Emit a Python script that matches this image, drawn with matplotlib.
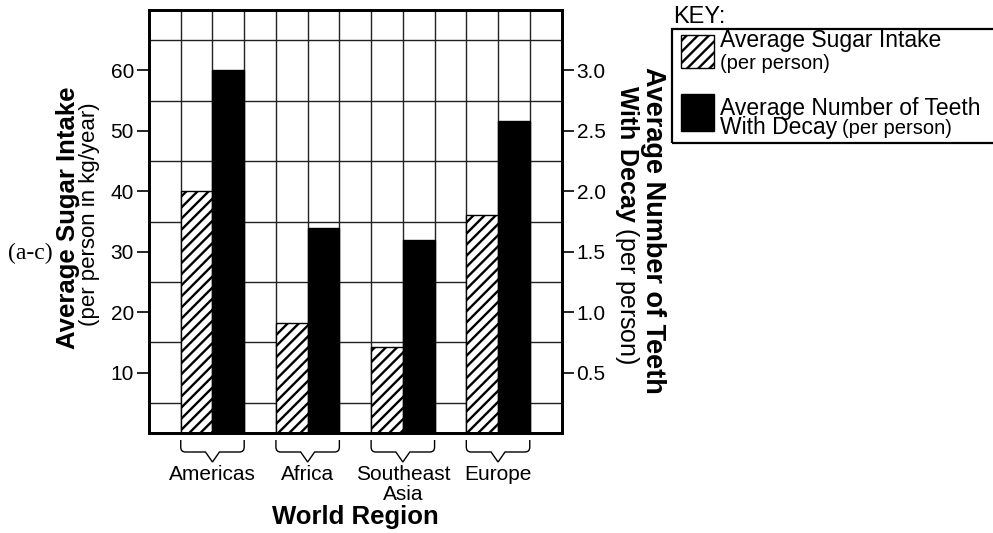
# Сахар и кариес по регионам мира: столбцы с двумя осями Y
import numpy as np
import matplotlib.pyplot as plt
import matplotlib.transforms as mtransforms
from matplotlib.path import Path
from matplotlib.patches import PathPatch, Rectangle

plt.rcParams['font.family'] = ['Liberation Sans', 'DejaVu Sans']
plt.rcParams['hatch.linewidth'] = 1.7
plt.rcParams['mathtext.fontset'] = 'custom'
plt.rcParams['mathtext.rm'] = 'Liberation Sans'
plt.rcParams['mathtext.bf'] = 'Liberation Sans:bold'

# данные
regions = ['Americas', 'Africa', 'Southeast\nAsia', 'Europe']
sugar = [40, 18.2, 14.2, 36]          # кг/год на человека (левая ось)
decay = [3.0, 1.7, 1.6, 2.58]         # зубов с кариесом (правая ось)
left_ticks = [10, 20, 30, 40, 50, 60]
right_ticks = [0.5, 1.0, 1.5, 2.0, 2.5, 3.0]

W, H = 993, 533
fig = plt.figure(figsize=(W / 100, H / 100), dpi=100)
ax = fig.add_axes([149 / W, 100 / H, 412.5 / W, 423 / H])
ax2 = ax.twinx()

centers = np.arange(len(regions)) * 3 + 2
ax.bar(centers - 0.5, sugar, width=1, color='white', edgecolor='black',
       hatch='///', linewidth=1, zorder=2)
ax2.bar(centers + 0.5, decay, width=1, color='black', edgecolor='black',
        linewidth=1, zorder=2)

# сетка: каждая клетка = 1 столбец по X и 5 единиц по Y
ax.set_xticks([])
ax.set_xticks(np.arange(0, 14), minor=True)
ax.set_yticks(left_ticks)
ax.set_yticks(np.arange(0, 71, 5), minor=True)
ax.grid(which='minor', color='#222222', linewidth=1)
ax.set_axisbelow(True)
ax.tick_params(which='minor', length=0)
ax.tick_params(axis='y', which='major', length=8.3, width=1.2, pad=2.5,
               labelsize=15, direction='out')
ax2.set_yticks(right_ticks)
ax2.set_yticklabels([f'{v:.1f}' for v in right_ticks])
ax2.tick_params(axis='y', length=8.3, width=1.2, pad=2.5, labelsize=15,
                direction='out')
for a in (ax, ax2):
    for s in a.spines.values():
        s.set_linewidth(2)

# фигурные скобки под группами и подписи регионов
trans = mtransforms.blended_transform_factory(ax.transData, ax.transAxes)
h = 423.0


def brace(x0, x1):
    xm = (x0 + x1) / 2
    y_top, y_hook, y_mid, y_tip = -7 / h, -14 / h, -19 / h, -29 / h
    verts = [(x0, y_top), (x0, y_hook), (x0, y_mid), (x0 + 0.15, y_mid),
             (xm - 0.22, y_mid), (xm, y_tip), (xm + 0.22, y_mid),
             (x1 - 0.15, y_mid), (x1, y_mid), (x1, y_hook), (x1, y_top)]
    codes = [Path.MOVETO, Path.LINETO, Path.CURVE3, Path.CURVE3,
             Path.LINETO, Path.LINETO, Path.LINETO, Path.LINETO,
             Path.CURVE3, Path.CURVE3, Path.LINETO]
    ax.add_patch(PathPatch(Path(verts, codes), fill=False, lw=1,
                           transform=trans, clip_on=False))


for xc, name in zip(centers, regions):
    brace(xc - 1, xc + 1)
    ax.text(xc, -32 / h, name, transform=trans, ha='center', va='top',
            fontsize=15, linespacing=1.1)

ax.set_xlim(0, 13)
ax.set_ylim(0, 70)
ax2.set_ylim(0, 3.5)

fig.text(355 / W, 1 - 517 / H, 'World Region', ha='center', va='center',
         fontsize=18.5, fontweight='bold')

# подписи осей
fig.text(68 / W, 1 - 218 / H, 'Average Sugar Intake', rotation=90,
         ha='center', va='center', fontsize=18.5, fontweight='bold')
fig.text(90 / W, 1 - 214 / H, '(per person in kg/year)', rotation=90,
         ha='center', va='center', fontsize=16)
fig.text(653 / W, 1 - 230 / H, 'Average Number of Teeth', rotation=270,
         ha='center', va='center', fontsize=19.5, fontweight='bold')
fig.text(627 / W, 1 - 225 / H, r'$\mathbf{With\ Decay}$ (per person)',
         rotation=270, ha='center', va='center', fontsize=18)

fig.text(30 / W, 1 - 253 / H, '(a-c)', ha='center', va='center',
         fontsize=17, family='Liberation Serif')

# легенда (KEY)
fig.text(673 / W, 1 - 23 / H, 'KEY:', ha='left', va='baseline', fontsize=17)
fig.patches.append(Rectangle((672 / W, 1 - 143 / H), 340 / W, 114 / H,
                             transform=fig.transFigure, fill=False,
                             edgecolor='black', linewidth=1.6))
fig.patches.append(Rectangle((681 / W, 1 - 68 / H), 33 / W, 33 / H,
                             transform=fig.transFigure, facecolor='white',
                             edgecolor='black', hatch='///', linewidth=1))
fig.patches.append(Rectangle((681 / W, 1 - 131 / H), 33 / W, 37 / H,
                             transform=fig.transFigure, facecolor='black',
                             edgecolor='black', linewidth=1))
fig.text(720 / W, 1 - 47 / H, 'Average Sugar Intake', va='baseline',
         fontsize=16.5)
fig.text(720 / W, 1 - 69 / H, '(per person)', va='baseline', fontsize=14.5)
fig.text(720 / W, 1 - 115 / H, 'Average Number of Teeth', va='baseline',
         fontsize=16.5)
t = fig.text(720 / W, 1 - 134 / H, 'With Decay', va='baseline',
             fontsize=16.5)
r = fig.canvas.get_renderer()
bb = t.get_window_extent(r)
fig.text((bb.x1 + 5) / W, 1 - 134 / H, '(per person)', va='baseline',
         fontsize=14.5)

plt.savefig('out.png', dpi=100)
